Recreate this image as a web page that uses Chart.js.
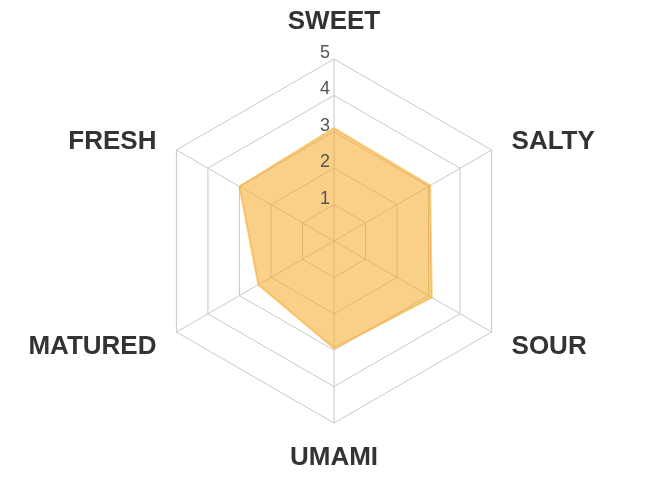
<!DOCTYPE html>
<html><head><meta charset="utf-8">
<script src="https://cdn.jsdelivr.net/npm/chart.js@4"></script>
<style>html,body{margin:0;padding:0;background:#fff;overflow:hidden;}</style>
</head><body>
<canvas id="c" width="668" height="484"></canvas>
<script>
const categories = ['SWEET', 'SALTY', 'SOUR', 'UMAMI', 'MATURED', 'FRESH'];
const tasteValues = [3.1, 3.05, 3.1, 2.95, 2.4, 3.0];
const tickLabels = ['1', '2', '3', '4', '5'];

// Draws tick numbers just above/left of the vertical axis, using the scale's own geometry.
const tickLabelPlugin = {
  id: 'tickLabelPlugin',
  afterDatasetsDraw(chart) {
    const s = chart.scales.r;
    const ctx = chart.ctx;
    ctx.save();
    ctx.font = '18px "Liberation Sans", Arial, sans-serif';
    ctx.fillStyle = '#555555';
    ctx.textAlign = 'center';
    ctx.textBaseline = 'alphabetic';
    s.ticks.forEach((t) => {
      if (t.value <= 0) return;
      const d = s.getDistanceFromCenterForValue(t.value);
      ctx.fillText(tickLabels[t.value - 1], s.xCenter - 9, s.yCenter - d - 1);
    });
    ctx.restore();
  }
};

// Draws the category names outside the web, positioned with scale.getPointPosition.
const axisLabelPlugin = {
  id: 'axisLabelPlugin',
  afterDraw(chart) {
    const s = chart.scales.r;
    const ctx = chart.ctx;
    const labels = chart.data.labels;
    ctx.save();
    ctx.font = 'bold 26px "Liberation Sans", Arial, sans-serif';
    ctx.fillStyle = '#333333';
    ctx.textBaseline = 'alphabetic';
    labels.forEach((lab, i) => {
      const pad = i === 0 ? 39.5 : (i === 3 ? 32.8 : 23);
      const p = s.getPointPosition(i, s.drawingArea + pad);
      let dy = 9.5;
      if (i === 0 || i === 3) {
        ctx.textAlign = 'center';
      } else {
        ctx.textAlign = (i < 3) ? 'left' : 'right';
        dy += 1;
      }
      ctx.fillText(lab, p.x, p.y + dy);
    });
    ctx.restore();
  }
};

new Chart(document.getElementById('c'), {
  type: 'radar',
  data: {
    labels: categories,
    datasets: [{
      data: tasteValues,
      backgroundColor: 'rgba(245,170,40,0.55)',
      borderColor: 'rgba(245,170,40,0.55)',
      borderWidth: 2,
      pointRadius: 0,
      pointHoverRadius: 0,
      fill: true,
      tension: 0
    }]
  },
  options: {
    responsive: false,
    animation: false,
    devicePixelRatio: 1,
    layout: { padding: { top: 59, bottom: 61, left: 0, right: 0 } },
    plugins: { legend: { display: false }, tooltip: { enabled: false } },
    scales: {
      r: {
        min: 0,
        max: 5,
        ticks: { display: false, stepSize: 1 },
        grid: { color: '#c8c8c8', lineWidth: 1 },
        angleLines: { color: '#c8c8c8', lineWidth: 1 },
        pointLabels: { display: false }
      }
    }
  },
  plugins: [tickLabelPlugin, axisLabelPlugin]
});
</script>
</body></html>
